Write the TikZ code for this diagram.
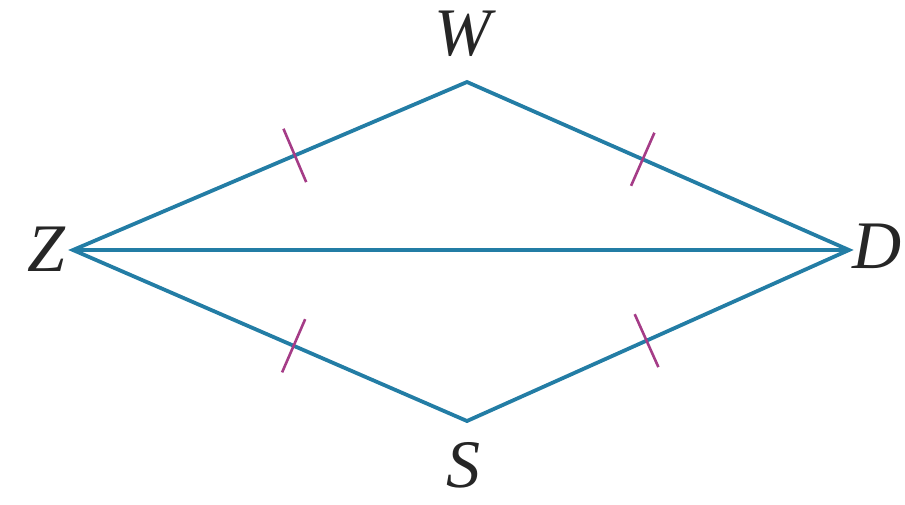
\documentclass[tikz,border=0pt]{standalone}
\usepackage{fontspec}
\setmainfont{Liberation Serif}
\usetikzlibrary{calc}
\definecolor{edgeblue}{RGB}{35,125,165}
\definecolor{tickmag}{RGB}{165,60,135}
\tikzset{
  edge/.style={draw=edgeblue, line width=3.8pt, line join=miter},
  tickmark/.style={draw=tickmag, line width=2.6pt},
  vlabel/.style={anchor=base, inner sep=0pt, font=\fontsize{68}{68}\selectfont\itshape, text=black!85}
}
\begin{document}
\begin{tikzpicture}[x=1pt,y=-1pt]
\useasboundingbox (0,0) rectangle (905,504);
\coordinate (Z) at (73,250);
\coordinate (W) at (467,82);
\coordinate (D) at (849,250);
\coordinate (S) at (467,421);
\draw[edge] (Z) -- (W) -- (D) -- (S) -- cycle;
\draw[edge] (Z) -- (D);
\node[vlabel] (lW) at (463,55) {W};
\node[vlabel] (lZ) at (46,271) {Z};
\node[vlabel] (lD) at (877,268) {D};
\node[vlabel] (lS) at (463,487) {S};
\draw[tickmark] ($(Z)!0.563!(W)!29pt!90:(W)$) -- ($(Z)!0.563!(W)!29pt!-90:(W)$);
\draw[tickmark] ($(W)!0.46!(D)!29pt!90:(D)$) -- ($(W)!0.46!(D)!29pt!-90:(D)$);
\draw[tickmark] ($(Z)!0.56!(S)!29pt!90:(S)$) -- ($(Z)!0.56!(S)!29pt!-90:(S)$);
\draw[tickmark] ($(S)!0.47!(D)!29pt!90:(D)$) -- ($(S)!0.47!(D)!29pt!-90:(D)$);
\end{tikzpicture}
\end{document}
